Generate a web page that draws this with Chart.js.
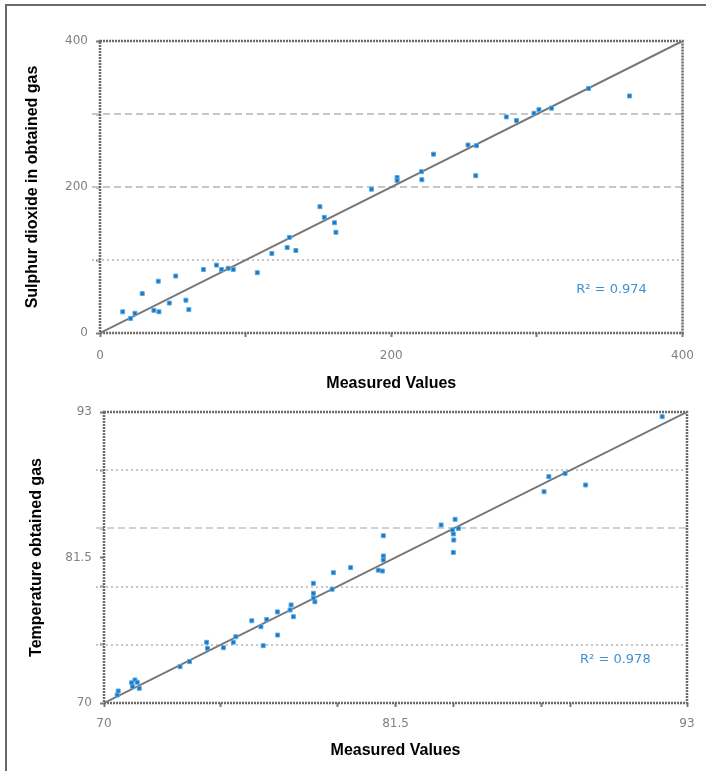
<!DOCTYPE html>
<html><head><meta charset="utf-8">
<script src="https://cdn.jsdelivr.net/npm/chart.js@4"></script>
<style>
html,body{margin:0;padding:0;background:#fff;width:706px;height:771px;overflow:hidden;}
#frame{position:absolute;left:5px;top:4px;width:760px;height:820px;border-top:2px solid #6a6a6a;border-left:2px solid #6a6a6a;}
#c1{position:absolute;left:0;top:0;}
#c2{position:absolute;left:0;top:392px;}
</style></head><body>
<div id="frame"></div>
<canvas id="c1" width="706" height="400"></canvas>
<canvas id="c2" width="706" height="379"></canvas>
<script>
// ---- Chart 1: Sulphur dioxide ----
const so2Measured = [15.6,21,24,29,37,40.5,40,47.6,52,59,61,71,80,83.5,88,91.5,108,118,130,128.5,134.5,151,154,161,162,186.4,204,204,220.7,221,229,252.7,258.5,258,279,286,298,301.4,310,335.5,363.6];
const so2Obtained = [29,20,27,54,31,29,71,41,78,45,32,87,93,87,88.6,87,82.6,109,131,117,113,173,158.5,151,138,197,213,209,221,210,245,257.5,256.6,215.5,296,291,301,306,308,335,324.7];
const so2Range = [0, 400];
const so2XTicks = [0,100,200,300,400];
const so2YTicks = [0,100,200,300,400];
const so2Labels = [0,200,400];
const so2DottedGrid = [100];
const so2DashedGrid = [200,300];
const so2R2 = "R² = 0.974";
const so2R2At = [327, 59];

// ---- Chart 2: Temperature ----
const tempMeasured = [70.52,70.56,71.09,71.22,71.13,71.39,71.31,73.0,73.37,74.05,74.08,74.71,75.1,75.2,75.83,76.19,76.42,76.28,76.85,76.84,77.38,77.34,77.47,78.26,78.26,78.32,78.26,79.05,79.0,79.73,81.02,81.02,81.02,80.98,80.82,83.3,83.85,83.98,83.78,83.8,83.78,83.75,87.36,87.55,88.19,89.0,92.02];
const tempObtained = [70.63,70.95,71.6,71.82,71.29,71.16,71.64,72.87,73.27,74.8,74.32,74.37,74.8,75.24,76.5,76.03,76.6,74.53,75.37,77.2,77.75,77.35,76.82,79.46,78.67,78.0,78.3,80.3,78.99,80.7,83.22,81.62,81.3,80.43,80.5,84.07,84.52,83.8,83.36,82.88,81.9,83.67,86.7,87.89,88.15,87.23,92.63];
const tempRange = [70, 93];
const tempXTicks = [70,74.6,79.2,81.5,83.8,87.25,88.4,93];
const tempYTicks = [70,74.6,79.2,81.5,83.8,88.4,93];
const tempLabels = [70,81.5,93];
const tempDottedGrid = [74.6,79.2,88.4];
const tempDashedGrid = [83.8];
const tempR2 = "R² = 0.978";
const tempR2At = [88.78, 73.4];

const decor = {
  id: 'decor',
  beforeDatasetsDraw(chart, args, o) {
    const {ctx, chartArea: a, scales: {x, y}} = chart;
    ctx.save();
    const hline = (v, dash, color) => {
      const py = Math.round(y.getPixelForValue(v));
      ctx.beginPath(); ctx.setLineDash(dash); ctx.strokeStyle = color; ctx.lineWidth = 2;
      ctx.moveTo(a.left - 8, py); ctx.lineTo(a.right, py); ctx.stroke();
    };
    o.dotted.forEach(v => hline(v, [2, 3], '#c6c6c6'));
    o.dashed.forEach(v => hline(v, [7, 4], o.dashColor));
    ctx.setLineDash([2, 1]); ctx.strokeStyle = '#6a6a6a'; ctx.lineWidth = 2.5;
    ctx.strokeRect(a.left, a.top, a.right - a.left, a.bottom - a.top);
    ctx.setLineDash([]);
    ctx.fillStyle = '#3f93d2'; ctx.font = '13px "DejaVu Sans"'; ctx.textBaseline = 'middle'; ctx.textAlign = 'left';
    ctx.fillText(o.text, x.getPixelForValue(o.at[0]), y.getPixelForValue(o.at[1]));
    ctx.restore();
  }
};

function makeChart(id, p) {
  const tickFont = {family: 'DejaVu Sans', size: 12};
  const titleFont = {family: 'Liberation Sans', size: 16, weight: 'bold'};
  const gridOpts = {display: true, drawOnChartArea: false, drawTicks: true, tickLength: 4, tickColor: '#7a7a7a', tickWidth: 2};
  const labelCb = v => p.labels.includes(v) ? String(v) : '';
  return new Chart(document.getElementById(id), {
    data: {
      datasets: [
        {type: 'scatter', data: p.mx.map((m, i) => ({x: m, y: p.my[i]})), pointStyle: 'rect', pointRadius: 2.8,
         backgroundColor: '#1c74c4', borderColor: '#5aaae0', borderWidth: 1},
        {type: 'line', data: [{x: p.range[0], y: p.range[0]}, {x: p.range[1], y: p.range[1]}], borderColor: '#767676',
         borderWidth: 2, pointRadius: 0, fill: false}
      ]
    },
    options: {
      responsive: false, animation: false, events: [],
      layout: {padding: p.pad},
      plugins: {legend: {display: false}, tooltip: {enabled: false}, decor: p.decor},
      scales: {
        x: {type: 'linear', min: p.range[0], max: p.range[1],
            afterBuildTicks: s => { s.ticks = p.xt.map(v => ({value: v})); },
            afterFit: s => { s.height = p.xh; },
            grid: gridOpts, border: {display: false},
            ticks: {font: tickFont, color: '#808080', padding: p.xpad, maxRotation: 0, autoSkip: false, callback: labelCb},
            title: {display: true, text: 'Measured Values', font: titleFont, color: '#000', padding: {top: 0, bottom: p.xtb}}},
        y: {type: 'linear', min: p.range[0], max: p.range[1],
            afterBuildTicks: s => { s.ticks = p.yt.map(v => ({value: v})); },
            afterFit: s => { s.width = p.yw; },
            grid: gridOpts, border: {display: false},
            ticks: {font: tickFont, color: '#808080', padding: 8, autoSkip: false, callback: labelCb},
            title: {display: true, text: p.ytitle, font: titleFont, color: '#000', padding: {top: p.ytt, bottom: 0}}}
      }
    },
    plugins: [decor]
  });
}

makeChart('c1', {mx: so2Measured, my: so2Obtained, range: so2Range, xt: so2XTicks, yt: so2YTicks, labels: so2Labels,
  pad: {left: 0, top: 41, right: 23, bottom: 0}, xh: 67, yw: 100, xpad: 12, xtb: 7, ytt: 23,
  ytitle: 'Sulphur dioxide in obtained gas',
  decor: {dotted: so2DottedGrid, dashed: so2DashedGrid, dashColor: '#c6c6c6', text: so2R2, at: so2R2At}});

makeChart('c2', {mx: tempMeasured, my: tempObtained, range: tempRange, xt: tempXTicks, yt: tempYTicks, labels: tempLabels,
  pad: {left: 0, top: 20, right: 19, bottom: 0}, xh: 68, yw: 104, xpad: 10, xtb: 11, ytt: 27,
  ytitle: 'Temperature obtained gas',
  decor: {dotted: tempDottedGrid, dashed: tempDashedGrid, dashColor: '#c4d6d6', text: tempR2, at: tempR2At}});
</script>
</body></html>
